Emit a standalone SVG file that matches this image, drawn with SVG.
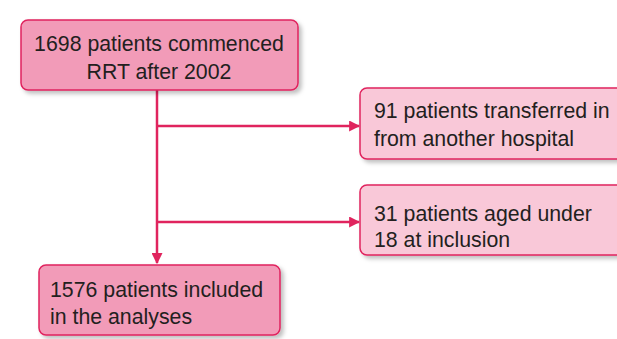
<svg xmlns="http://www.w3.org/2000/svg" width="617" height="339" viewBox="0 0 617 339">
<defs>
<style>
.box{stroke:#e0245e;stroke-width:1.5}
.dark{fill:#f29bb8}
.light{fill:#f9c8d8}
.t{font-family:"Liberation Sans",Arial,sans-serif;font-size:21.3px;fill:#231f20}
.ln{stroke:#e0245e;stroke-width:2.5;fill:none}
</style>
<filter id="sh" x="-10%" y="-10%" width="130%" height="140%">
<feDropShadow dx="3" dy="3" stdDeviation="2" flood-color="#000" flood-opacity="0.25"/>
</filter>
<marker id="ah" viewBox="0 0 10 10" refX="9" refY="5" markerWidth="4.4" markerHeight="4.4" orient="auto" markerUnits="strokeWidth">
<path d="M0,0 L10,5 L0,10 z" fill="#e0245e"/>
</marker>
</defs>
<rect width="617" height="339" fill="#fff"/>
<g id="connectors">
<line class="ln" x1="157" y1="90" x2="157" y2="263" marker-end="url(#ah)"/>
<line class="ln" x1="157" y1="126" x2="359" y2="126" marker-end="url(#ah)"/>
<line class="ln" x1="157" y1="222" x2="359" y2="222" marker-end="url(#ah)"/>
</g>
<g id="n1">
<rect class="box dark" x="21" y="20" width="277" height="70" rx="7" filter="url(#sh)"/>
<text class="t" x="159" y="51" text-anchor="middle">1698 patients commenced</text>
<text class="t" x="159" y="79" text-anchor="middle">RRT after 2002</text>
</g>
<g id="n2">
<rect class="box light" x="360" y="88" width="264" height="71" rx="7" filter="url(#sh)"/>
<text class="t" x="374" y="118">91 patients transferred in</text>
<text class="t" x="374" y="146">from another hospital</text>
</g>
<g id="n4">
<rect class="box light" x="360" y="185" width="264" height="70" rx="7" filter="url(#sh)"/>
<text class="t" x="374" y="221">31 patients aged under</text>
<text class="t" x="374" y="247">18 at inclusion</text>
</g>
<g id="n3">
<rect class="box dark" x="39" y="265" width="241" height="70" rx="7" filter="url(#sh)"/>
<text class="t" x="50" y="297">1576 patients included</text>
<text class="t" x="50" y="324">in the analyses</text>
</g>
</svg>
